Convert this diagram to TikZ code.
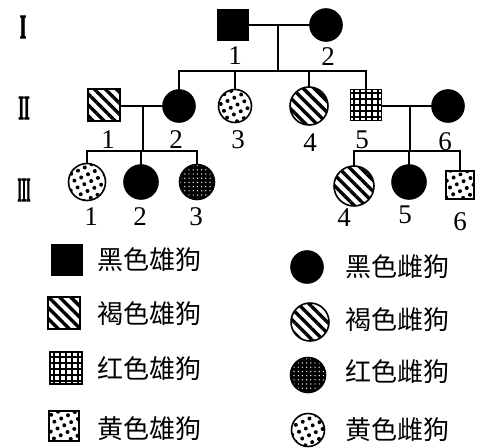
\documentclass[tikz,border=0pt]{standalone}
\usepackage{graphicx}
\usepackage{fontspec}
\setmainfont{Liberation Serif}
\newfontfamily\genfont[BoldFeatures={FakeBold=2.5}]{Liberation Serif}
\newfontfamily\cjk{Noto Sans CJK SC}
\usetikzlibrary{patterns.meta}
\begin{document}
\begin{tikzpicture}[x=1pt,y=1pt,
  ind/.style={draw, line width=1.6pt, inner sep=0pt, outer sep=0pt},
  male/.style={ind, rectangle, minimum size=#1},
  female/.style={ind, circle, minimum size=#1},
  blk/.style={fill=black},
  brown/.style={pattern={Lines[angle=-45,distance=7.8pt,line width=3.4pt]}},
  redm/.style={pattern={Hatch[angle=0,distance=6pt,line width=2.2pt]}},
  redf/.style={preaction={fill=black}, pattern={Dots[distance=4.2pt,radius=0.7pt]}, pattern color=white},
  yel/.style={pattern={Dots[distance=7.5pt,radius=2pt,angle=25]}},
  conn/.style={line width=1.3pt},
  num/.style={inner sep=0pt, font=\fontsize{27}{27}\selectfont},
  gen/.style={inner sep=0pt, font=\genfont\bfseries\fontsize{17}{17}\selectfont},
  leg/.style={inner sep=0pt, anchor=west, font=\cjk\fontsize{26}{26}\selectfont}
]
\useasboundingbox (0,0) rectangle (484,-447);

% generation labels
\node[gen] (gI) at (23,-27) {\scalebox{1}[2]{I}};
\node[gen] (gII) at (24,-108) {\scalebox{0.85}[2]{II}};
\node[gen] (gIII) at (24,-190) {\scalebox{0.65}[2]{III}};

% generation I
\node[male=30pt, blk] (I1) at (233,-25) {};
\node[female=32pt, blk] (I2) at (326,-25) {};
\node[num] (nI1) at (235,-56) {1};
\node[num] (nI2) at (328,-57) {2};

% generation II
\node[male=32pt, brown] (II1) at (104,-105) {};
\node[female=32pt, blk] (II2) at (179,-106) {};
\node[female=33pt, yel] (II3) at (235,-106) {};
\node[female=38pt, brown] (II4) at (309,-106) {};
\node[male=31pt, redm] (II5) at (366,-105) {};
\node[female=32pt, blk] (II6) at (448,-106) {};
\node[num] (nII1) at (108,-140) {1};
\node[num] (nII2) at (176,-140) {2};
\node[num] (nII3) at (238,-140) {3};
\node[num] (nII4) at (310,-143) {4};
\node[num] (nII5) at (362,-140) {5};
\node[num] (nII6) at (445,-142) {6};

% generation III
\node[female=37pt, yel] (III1) at (87,-182) {};
\node[female=34pt, blk] (III2) at (141,-182) {};
\node[female=35pt, redf] (III3) at (197,-182) {};
\node[female=40pt, brown] (III4) at (354,-186) {};
\node[female=34pt, blk] (III5) at (409,-182) {};
\node[male=28pt, yel] (III6) at (460,-185) {};
\node[num] (nIII1) at (91,-217) {1};
\node[num] (nIII2) at (140,-217) {2};
\node[num] (nIII3) at (196,-217) {3};
\node[num] (nIII4) at (344,-218) {4};
\node[num] (nIII5) at (405,-215) {5};
\node[num] (nIII6) at (460,-222) {6};

% connectors
\coordinate (mI) at (278,-25);
\coordinate (sI) at (278,-71);
\draw[conn] (I1.east) -- (I2.west);
\draw[conn] (mI) -- (sI);
\draw[conn] (II2.north) |- (sI) -| (II5.north);
\draw[conn] (II3.north) -- (II3.north |- sI);
\draw[conn] (II4.north) -- (II4.north |- sI);

\coordinate (mA) at (143,-106);
\coordinate (sA) at (143,-151);
\draw[conn] (II1.east |- mA) -- (II2.west);
\draw[conn] (mA) -- (sA);
\draw[conn] (III1.north) |- (sA) -| (III3.north);
\draw[conn] (III2.north) -- (III2.north |- sA);

\coordinate (mB) at (410,-106);
\coordinate (sB) at (410,-151);
\draw[conn] (II5.east |- mB) -- (II6.west);
\draw[conn] (mB) -- (sB);
\draw[conn] (III4.north) |- (sB) -| (III6.north);
\draw[conn] (III5.north) -- (III5.north |- sB);

% legend
\node[male=30pt, blk] (L1) at (67,-260) {};
\node[male=32pt, brown] (L2) at (64,-313) {};
\node[male=32pt, redm] (L3) at (66,-368) {};
\node[male=30pt, yel] (L4) at (64,-426) {};
\node[leg] (tL1) at (97,-260) {黑色雄狗};
\node[leg] (tL2) at (97,-314) {褐色雄狗};
\node[leg] (tL3) at (97,-369) {红色雄狗};
\node[leg] (tL4) at (97,-429) {黄色雄狗};

\node[female=32pt, blk] (R1) at (307,-267) {};
\node[female=38pt, brown] (R2) at (310,-322) {};
\node[female=35pt, redf] (R3) at (308,-375) {};
\node[female=33pt, yel] (R4) at (308,-430) {};
\node[leg] (tR1) at (345,-267) {黑色雌狗};
\node[leg] (tR2) at (345,-320) {褐色雌狗};
\node[leg] (tR3) at (345,-372) {红色雌狗};
\node[leg] (tR4) at (345,-430) {黄色雌狗};
\end{tikzpicture}
\end{document}
